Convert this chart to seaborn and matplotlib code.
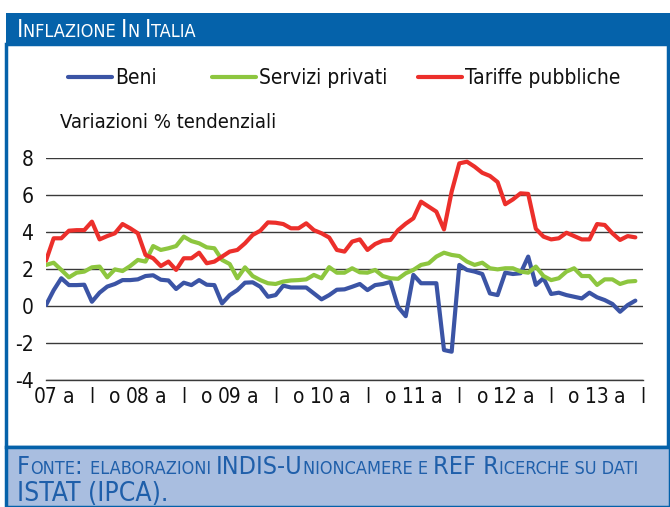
import numpy as np
import pandas as pd
import matplotlib
matplotlib.use("Agg")
import matplotlib.pyplot as plt
from matplotlib.patches import Rectangle
from matplotlib.lines import Line2D
import seaborn as sns

# variazioni % tendenziali, mensili da gen 2007 a giu 2013
beni = [0.05, 0.85, 1.5, 1.13, 1.13, 1.15, 0.23, 0.72, 1.05, 1.19, 1.4, 1.4,
        1.44, 1.62, 1.66, 1.42, 1.38, 0.92, 1.26, 1.13, 1.4, 1.15, 1.13, 0.14,
        0.59, 0.86, 1.26, 1.28, 1.04, 0.5, 0.59, 1.1, 1.0, 1.0, 1.0, 0.68,
        0.36, 0.59, 0.88, 0.9, 1.04, 1.19, 0.86, 1.13, 1.19, 1.3, -0.05, -0.55,
        1.68, 1.23, 1.23, 1.23, -2.38, -2.47, 2.22, 1.95, 1.86, 1.73, 0.68, 0.59,
        1.8, 1.73, 1.77, 2.67, 1.14, 1.5, 0.65, 0.72, 0.59, 0.5, 0.41, 0.72,
        0.47, 0.32, 0.11, -0.31, 0.05, 0.29]
servizi = [2.22, 2.34, 1.95, 1.55, 1.8, 1.86, 2.09, 2.13, 1.55, 1.98, 1.89, 2.16,
           2.49, 2.4, 3.24, 3.03, 3.12, 3.24, 3.75, 3.51, 3.39, 3.17, 3.12, 2.49,
           2.27, 1.5, 2.09, 1.62, 1.4, 1.23, 1.19, 1.32, 1.38, 1.4, 1.44, 1.68,
           1.5, 2.1, 1.8, 1.8, 2.04, 1.82, 1.8, 1.95, 1.62, 1.5, 1.47, 1.77,
           1.95, 2.22, 2.31, 2.67, 2.88, 2.76, 2.7, 2.4, 2.22, 2.34, 2.04, 1.98,
           2.04, 2.04, 1.86, 1.8, 2.13, 1.62, 1.4, 1.5, 1.86, 2.04, 1.62, 1.62,
           1.14, 1.44, 1.44, 1.19, 1.32, 1.35]
tariffe = [2.45, 3.66, 3.66, 4.07, 4.1, 4.1, 4.56, 3.6, 3.78, 3.93, 4.43, 4.2,
           3.93, 2.76, 2.58, 2.16, 2.4, 1.95, 2.58, 2.58, 2.88, 2.31, 2.4, 2.67,
           2.94, 3.03, 3.39, 3.84, 4.07, 4.52, 4.5, 4.43, 4.2, 4.2, 4.47, 4.1,
           3.93, 3.7, 3.03, 2.94, 3.48, 3.6, 3.03, 3.35, 3.53, 3.57, 4.1, 4.45,
           4.74, 5.64, 5.37, 5.1, 4.14, 6.18, 7.71, 7.8, 7.53, 7.2, 7.03, 6.7,
           5.5, 5.76, 6.09, 6.06, 4.17, 3.75, 3.6, 3.66, 3.96, 3.78, 3.6, 3.6,
           4.43, 4.38, 3.93, 3.57, 3.78, 3.71]

serie = ["Beni", "Servizi privati", "Tariffe pubbliche"]
colori = ["#3B54A5", "#8DC63F", "#EC2F2B"]
etichette_x = ["07", "a", "l", "o", "08", "a", "l", "o", "09", "a", "l", "o",
               "10", "a", "l", "o", "11", "a", "l", "o", "12", "a", "l", "o",
               "13", "a", "l"]
y_ticks = [-4, -2, 0, 2, 4, 6, 8]

W, H = 670, 507
sns.set_theme(style="white")
plt.rcParams["font.family"] = ["DejaVu Sans"]
plt.rcParams["font.stretch"] = "condensed"

fig = plt.figure(figsize=(W / 100, H / 100), dpi=100)


def fx(px):
    return px / W


def fy(py):
    return 1 - py / H


# cornice: testata blu, corpo bianco, piede azzurro
blu = "#0562AA"
fig.patches.append(Rectangle((fx(6), fy(447)), fx(662), 403 / H, transform=fig.transFigure,
                             facecolor="white", edgecolor=blu, lw=2.5, zorder=0))
fig.patches.append(Rectangle((fx(6), fy(44)), fx(664), 31 / H, transform=fig.transFigure,
                             facecolor=blu, edgecolor="none", zorder=1))
fig.patches.append(Rectangle((fx(6), fy(507)), fx(664), 60 / H, transform=fig.transFigure,
                             facecolor="#A9BEE0", edgecolor=blu, lw=2.5, zorder=1))


def maiuscoletto(x, y, s, big, small, color):
    # small caps a mano: minuscole rese come maiuscole piccole
    renderer = fig.canvas.get_renderer()
    runs, cur, low = [], "", None
    for ch in s:
        is_low = ch.islower()
        if ch == " " or low is None or is_low == low:
            cur += ch
            if ch != " ":
                low = is_low
        else:
            runs.append((cur, low))
            cur, low = ch, is_low
    runs.append((cur, low))
    for txt, is_low in runs:
        t = fig.text(x, y, txt.upper() if is_low else txt, fontsize=small if is_low else big,
                     color=color, va="baseline", ha="left", zorder=5)
        x += t.get_window_extent(renderer).width / W


maiuscoletto(fx(17), fy(37), "Inflazione In Italia", 17, 13, "white")
maiuscoletto(fx(17), fy(474), "Fonte: elaborazioni INDIS-Unioncamere e REF Ricerche su dati",
             18, 13, "#1F5FAA")
maiuscoletto(fx(17), fy(501), "ISTAT (IPCA).", 19, 13, "#1F5FAA")

# grafico
ax = fig.add_axes([fx(46), fy(380), (643 - 46) / W, (380 - 158) / H])
ax.set_facecolor("none")
ax.set_zorder(3)
df = pd.DataFrame({
    "mese": list(range(len(beni))) * 3,
    "valore": beni + servizi + tariffe,
    "serie": [serie[0]] * len(beni) + [serie[1]] * len(servizi) + [serie[2]] * len(tariffe),
})
sns.lineplot(data=df, x="mese", y="valore", hue="serie", hue_order=serie,
             palette=dict(zip(serie, colori)), linewidth=3, legend=False, ax=ax)

ax.set_xlim(0, len(etichette_x) * 3 - 3)
ax.set_ylim(-4, 8)
ax.set_yticks(y_ticks)
ax.set_yticklabels([str(v) for v in y_ticks])
ax.set_xticks(range(0, len(etichette_x) * 3, 3))
ax.set_xticklabels(etichette_x)
ax.tick_params(axis="both", length=0, labelsize=15, colors="#111111")
ax.tick_params(axis="y", pad=9)
ax.tick_params(axis="x", pad=5)
ax.yaxis.grid(True, color="#3A3A3A", lw=1)
ax.xaxis.grid(False)
for nome_sp, sp in ax.spines.items():
    sp.set_visible(nome_sp == "bottom")
ax.spines["bottom"].set_color("#3A3A3A")
ax.spines["bottom"].set_linewidth(1)
ax.set_xlabel("")
ax.set_ylabel("")

fig.text(fx(60), fy(122), "Variazioni % tendenziali", fontsize=14.5, va="center", ha="left",
         color="#111111")

# legenda: tre voci come in Excel
for nome, col, xpos in zip(serie, colori, [68, 212, 418]):
    h = Line2D([], [], color=col, lw=3)
    fig.legend(handles=[h], labels=[nome], loc="center left",
               bbox_to_anchor=(fx(xpos), fy(78)), frameon=False, borderaxespad=0,
               borderpad=0, handlelength=2.1, handletextpad=0.15, fontsize=15,
               labelcolor="#111111")

fig.savefig("out.png", dpi=100)
